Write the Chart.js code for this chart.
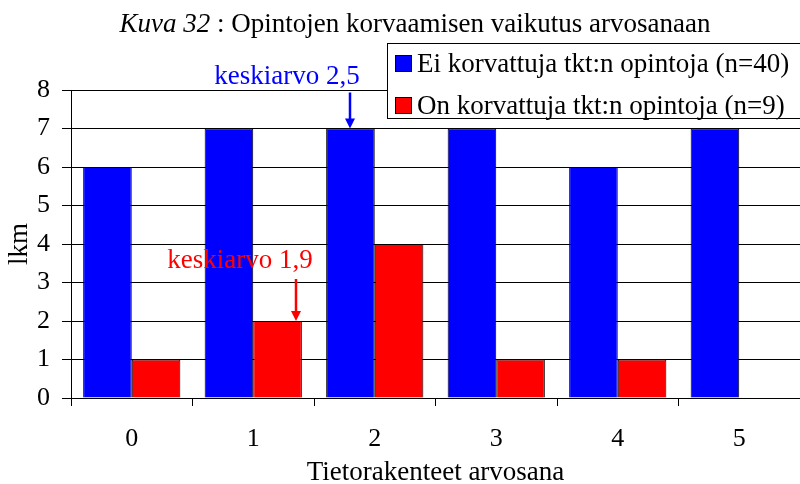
<!DOCTYPE html>
<html>
<head>
<meta charset="utf-8">
<script src="https://cdn.jsdelivr.net/npm/chart.js@4"></script>
<style>
  html, body { margin: 0; padding: 0; background: #fff; }
  #wrap { width: 800px; height: 484px; position: relative; }
</style>
</head>
<body>
<div id="wrap"><canvas id="chart"></canvas></div>
<script>
// Grade categories and counts per group
const categories = ['0', '1', '2', '3', '4', '5'];
const seriesNames = ['Ei korvattuja tkt:n opintoja (n=40)', 'On korvattuja tkt:n opintoja (n=9)'];
const noReplaced = [6, 7, 7, 7, 6, 7];
const replaced = [1, 2, 4, 1, 1, 0];
const yTicks = [0, 1, 2, 3, 4, 5, 6, 7, 8];

// Average markers: which bar the arrow points at
const notes = [
  { text: 'keskiarvo 2,5', dataset: 0, index: 2, shift: 0, len: 36, gap: 9, textDx: -63, color: '#0000ff' },
  { text: 'keskiarvo 1,9', dataset: 1, index: 1, shift: 0.37, len: 42, gap: 11, textDx: -56, color: '#ff0000' }
];

const SERIF = '"Liberation Serif", "Times New Roman", serif';
const TXT = 27;

// Title with italic figure number
const titlePlugin = {
  id: 'figTitle',
  afterDraw(chart) {
    const ctx = chart.ctx;
    ctx.save();
    ctx.fillStyle = '#000';
    ctx.textBaseline = 'alphabetic';
    const a = 'Kuva 32', b = ' : Opintojen korvaamisen vaikutus arvosanaan';
    ctx.font = 'italic ' + TXT + 'px ' + SERIF;
    const wa = ctx.measureText(a).width;
    ctx.font = TXT + 'px ' + SERIF;
    const wb = ctx.measureText(b).width;
    const x = 415 - (wa + wb) / 2;
    ctx.font = 'italic ' + TXT + 'px ' + SERIF;
    ctx.fillText(a, x, 32);
    ctx.font = TXT + 'px ' + SERIF;
    ctx.fillText(b, x + wa, 32);
    ctx.restore();
  }
};

// Boxed legend in the top-right corner
const boxLegend = {
  id: 'boxLegend',
  afterDraw(chart) {
    const ctx = chart.ctx;
    const left = 387.5, top = 43.5;
    ctx.save();
    ctx.fillStyle = '#fff';
    ctx.fillRect(left, top, 420, 75);
    ctx.strokeStyle = '#000';
    ctx.lineWidth = 1;
    ctx.strokeRect(left, top, 420, 75);
    ctx.font = TXT + 'px ' + SERIF;
    ctx.textBaseline = 'alphabetic';
    chart.data.datasets.forEach((ds, i) => {
      const cy = 63.5 + i * 42;
      ctx.fillStyle = ds.backgroundColor;
      ctx.fillRect(395.5, cy - 8, 16, 16);
      ctx.strokeRect(395.5, cy - 8, 16, 16);
      ctx.fillStyle = '#000';
      ctx.fillText(ds.label, 417, cy + 8.5);
    });
    ctx.restore();
  }
};

// "keskiarvo" labels with arrows down to the bar tops
const arrowNotes = {
  id: 'arrowNotes',
  afterDatasetsDraw(chart) {
    const ctx = chart.ctx;
    ctx.save();
    notes.forEach(n => {
      const bar = chart.getDatasetMeta(n.dataset).data[n.index];
      const x = Math.round(bar.x + bar.width * n.shift);
      const tipY = bar.y;
      const startY = tipY - n.len;
      ctx.strokeStyle = n.color;
      ctx.fillStyle = n.color;
      ctx.lineWidth = 2.5;
      ctx.beginPath();
      ctx.moveTo(x, startY);
      ctx.lineTo(x, tipY - 8);
      ctx.stroke();
      ctx.beginPath();
      ctx.moveTo(x - 5, tipY - 10);
      ctx.lineTo(x + 5, tipY - 10);
      ctx.lineTo(x, tipY);
      ctx.closePath();
      ctx.fill();
      ctx.font = TXT + 'px ' + SERIF;
      ctx.textAlign = 'center';
      ctx.textBaseline = 'alphabetic';
      ctx.fillText(n.text, x + n.textDx, startY - n.gap);
    });
    ctx.restore();
  }
};

new Chart(document.getElementById('chart'), {
  type: 'bar',
  data: {
    labels: categories,
    datasets: [
      { label: seriesNames[0], data: noReplaced, backgroundColor: '#0000ff', borderColor: '#000', borderWidth: 1, categoryPercentage: 0.8, barPercentage: 1.0 },
      { label: seriesNames[1], data: replaced, backgroundColor: '#ff0000', borderColor: '#000', borderWidth: 1, categoryPercentage: 0.8, barPercentage: 1.0 }
    ]
  },
  options: {
    responsive: true, maintainAspectRatio: false, animation: false,
    layout: { padding: { top: 90, right: 0, bottom: 0, left: 0 } },
    plugins: { legend: { display: false }, tooltip: { enabled: false }, title: { display: false } },
    scales: {
      x: {
        offset: true,
        grid: { offset: true, drawOnChartArea: false, color: '#000', tickLength: 8 },
        border: { color: '#000' },
        ticks: { color: '#000', padding: 18, font: { family: SERIF, size: 26 } },
        title: { display: true, text: 'Tietorakenteet arvosana', color: '#000', padding: { top: 0, bottom: -5 }, font: { family: SERIF, size: TXT } },
        afterFit: s => { s.height = 86; }
      },
      y: {
        min: 0, max: 8,
        afterBuildTicks: s => { s.ticks = yTicks.map(v => ({ value: v })); },
        grid: { color: '#000', tickLength: 9 },
        border: { color: '#000' },
        ticks: { color: '#000', padding: 12, font: { family: SERIF, size: 26 } },
        title: { display: true, text: 'lkm', color: '#000', padding: { top: 4, bottom: 0 }, font: { family: SERIF, size: TXT } },
        afterFit: s => { s.width = 71; }
      }
    }
  },
  plugins: [titlePlugin, boxLegend, arrowNotes]
});
</script>
</body>
</html>
